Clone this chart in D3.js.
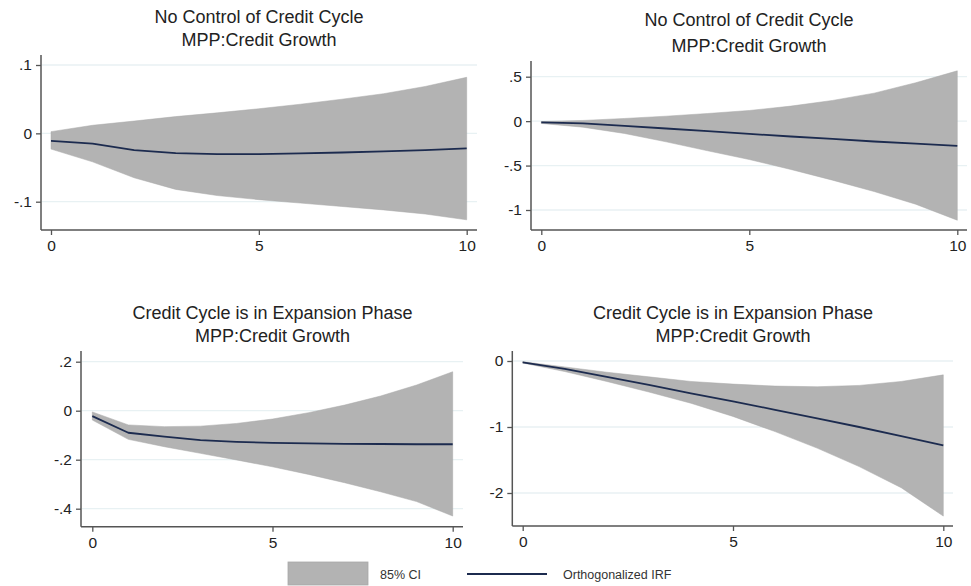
<!DOCTYPE html>
<html>
<head>
<meta charset="utf-8">
<script src="https://cdn.jsdelivr.net/npm/d3@7"></script>
<style>
  html, body { margin: 0; padding: 0; background: #ffffff; }
  svg { display: block; font-family: "Liberation Sans", Arial, sans-serif; }
</style>
</head>
<body>
<svg id="chart" width="971" height="586"></svg>
<script>
// ---------------- data ----------------
const steps = [0, 1, 2, 3, 4, 5, 6, 7, 8, 9, 10];
const xTicks = [0, 5, 10];

const titleLine1 = ["No Control of Credit Cycle", "No Control of Credit Cycle",
                    "Credit Cycle is in Expansion Phase", "Credit Cycle is in Expansion Phase"];
const titleLine2 = ["MPP:Credit Growth", "MPP:Credit Growth", "MPP:Credit Growth", "MPP:Credit Growth"];

// Panel A (top-left)
const irfA   = [-0.011, -0.015, -0.0245, -0.029, -0.0304, -0.0304, -0.0294, -0.028, -0.0265, -0.0245, -0.022];
const upperA = [0.0025, 0.0118, 0.018, 0.0245, 0.030, 0.036, 0.0426, 0.050, 0.058, 0.0686, 0.082];
const lowerA = [-0.023, -0.0417, -0.065, -0.082, -0.091, -0.097, -0.102, -0.107, -0.112, -0.118, -0.1265];
const yTicksA = [0.1, 0, -0.1];
const yLabelsA = [".1", "0", "-.1"];

// Panel B (top-right)
const irfB   = [-0.015, -0.026, -0.053, -0.083, -0.113, -0.143, -0.173, -0.199, -0.229, -0.252, -0.278];
const upperB = [-0.005, 0.008, 0.03, 0.056, 0.086, 0.12, 0.169, 0.233, 0.315, 0.432, 0.566];
const lowerB = [-0.026, -0.068, -0.139, -0.233, -0.334, -0.432, -0.544, -0.664, -0.792, -0.935, -1.115];
const yTicksB = [0.5, 0, -0.5, -1];
const yLabelsB = [".5", "0", "-.5", "-1"];

// Panel C (bottom-left)
const irfC   = [-0.022, -0.09, -0.106, -0.12, -0.127, -0.131, -0.133, -0.135, -0.136, -0.137, -0.137];
const upperC = [-0.005, -0.058, -0.065, -0.063, -0.052, -0.034, -0.008, 0.023, 0.06, 0.105, 0.159];
const lowerC = [-0.038, -0.117, -0.147, -0.174, -0.201, -0.229, -0.26, -0.294, -0.331, -0.371, -0.43];
const yTicksC = [0.2, 0, -0.2, -0.4];
const yLabelsC = [".2", "0", "-.2", "-.4"];

// Panel D (bottom-right)
const irfD   = [-0.02, -0.12, -0.24, -0.36, -0.49, -0.61, -0.74, -0.87, -1.0, -1.14, -1.28];
const upperD = [-0.01, -0.09, -0.17, -0.24, -0.31, -0.35, -0.38, -0.39, -0.37, -0.31, -0.21];
const lowerD = [-0.03, -0.16, -0.31, -0.47, -0.64, -0.84, -1.07, -1.32, -1.6, -1.92, -2.35];
const yTicksD = [0, -1, -2];
const yLabelsD = ["0", "-1", "-2"];

const legendLabels = ["85% CI", "Orthogonalized IRF"];

// ---------------- layout ----------------
const panels = [
  { irf: irfA, up: upperA, lo: lowerA, yt: yTicksA, yl: yLabelsA,
    axisX: 41, x0: 51, x1: 466.7, xEnd: 477, top: 55, bottom: 230, yTop: 65, yBot: 201.7,
    tx: 259, t1: 23, t2: 46 },
  { irf: irfB, up: upperB, lo: lowerB, yt: yTicksB, yl: yLabelsB,
    axisX: 531, x0: 541.3, x1: 957.3, xEnd: 967, top: 61, bottom: 230, yTop: 76.7, yBot: 210,
    tx: 749, t1: 25.5, t2: 52 },
  { irf: irfC, up: upperC, lo: lowerC, yt: yTicksC, yl: yLabelsC,
    axisX: 81, x0: 92.3, x1: 452.7, xEnd: 463, top: 351, bottom: 526.7, yTop: 361.7, yBot: 508.7,
    tx: 272.5, t1: 319, t2: 342 },
  { irf: irfD, up: upperD, lo: lowerD, yt: yTicksD, yl: yLabelsD,
    axisX: 512.3, x0: 522.7, x1: 943.3, xEnd: 953, top: 351, bottom: 526, yTop: 361, yBot: 493,
    tx: 733, t1: 319, t2: 342 }
];

const bandColor = "#b3b3b3";
const lineColor = "#1c2b4f";
const axisColor = "#555555";
const gridColor = "#e8f1f3";
const textColor = "#222222";

const svg = d3.select("#chart");

panels.forEach((p, i) => {
  const x = d3.scaleLinear().domain([0, 10]).range([p.x0, p.x1]);
  const tFirst = p.yt[0], tLast = p.yt[p.yt.length - 1];
  const y = d3.scaleLinear().domain([tLast, tFirst]).range([p.yBot, p.yTop]);

  const g = svg.append("g");

  // gridlines
  g.selectAll("line.grid").data(p.yt).enter().append("line")
    .attr("x1", p.axisX + 1).attr("x2", p.xEnd)
    .attr("y1", d => y(d)).attr("y2", d => y(d))
    .attr("stroke", gridColor).attr("stroke-width", 1.3);

  // band
  const area = d3.area()
    .x((d, k) => x(steps[k]))
    .y0((d, k) => y(p.lo[k]))
    .y1((d, k) => y(p.up[k]));
  g.append("path").datum(steps).attr("d", area)
    .attr("fill", bandColor).attr("stroke", "#a9a9a9").attr("stroke-width", 0.5);

  // IRF line
  const line = d3.line()
    .x((d, k) => x(steps[k]))
    .y((d, k) => y(p.irf[k]));
  g.append("path").datum(steps).attr("d", line)
    .attr("fill", "none").attr("stroke", lineColor).attr("stroke-width", 1.8)
    .attr("stroke-linejoin", "round");

  // y axis
  const yAxis = d3.axisLeft(y).tickValues(p.yt).tickFormat((d, k) => p.yl[k])
    .tickSize(5).tickSizeOuter(0);
  const ya = g.append("g").attr("transform", `translate(${p.axisX},0)`).call(yAxis);
  ya.select(".domain").remove();
  ya.append("line").attr("x1", 0).attr("x2", 0).attr("y1", p.top).attr("y2", p.bottom)
    .attr("stroke", axisColor).attr("stroke-width", 1.5);
  ya.selectAll(".tick line").attr("stroke", axisColor).attr("stroke-width", 1.3);
  ya.selectAll(".tick text").attr("fill", textColor).attr("font-size", "15.5px")
    .attr("font-family", "Liberation Sans, Arial, sans-serif").attr("x", -9);

  // x axis
  const xAxis = d3.axisBottom(x).tickValues(xTicks).tickFormat(d3.format("d"))
    .tickSize(5).tickSizeOuter(0);
  const xa = g.append("g").attr("transform", `translate(0,${p.bottom})`).call(xAxis);
  xa.select(".domain").remove();
  xa.append("line").attr("x1", p.axisX).attr("x2", p.xEnd).attr("y1", 0).attr("y2", 0)
    .attr("stroke", axisColor).attr("stroke-width", 1.5);
  xa.selectAll(".tick line").attr("stroke", axisColor).attr("stroke-width", 1.3);
  xa.selectAll(".tick text").attr("fill", textColor).attr("font-size", "15.5px")
    .attr("font-family", "Liberation Sans, Arial, sans-serif").attr("y", 10);

  // titles
  g.append("text").attr("x", p.tx).attr("y", p.t1).attr("text-anchor", "middle")
    .attr("font-size", "18px").attr("fill", textColor).text(titleLine1[i]);
  g.append("text").attr("x", p.tx).attr("y", p.t2).attr("text-anchor", "middle")
    .attr("font-size", "18px").attr("fill", textColor).text(titleLine2[i]);
});

// legend
const lg = svg.append("g");
lg.append("rect").attr("x", 288).attr("y", 562).attr("width", 80).attr("height", 23)
  .attr("fill", bandColor).attr("stroke", "#a9a9a9").attr("stroke-width", 0.8);
lg.append("text").attr("x", 380).attr("y", 578.5).attr("font-size", "12.5px")
  .attr("fill", "#333").text(legendLabels[0]);
lg.append("line").attr("x1", 467).attr("x2", 547).attr("y1", 574).attr("y2", 574)
  .attr("stroke", lineColor).attr("stroke-width", 2);
lg.append("text").attr("x", 563).attr("y", 578.5).attr("font-size", "12.5px")
  .attr("fill", "#333").text(legendLabels[1]);
</script>
</body>
</html>
